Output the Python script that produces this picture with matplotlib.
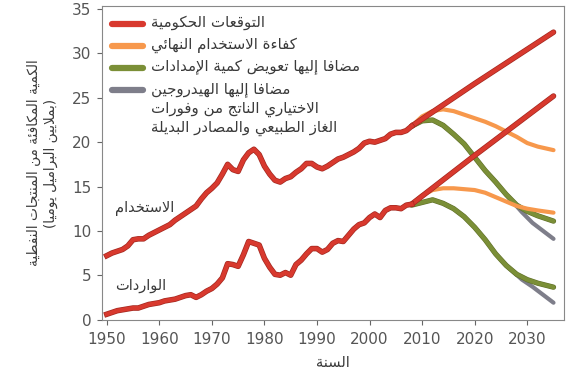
import matplotlib
matplotlib.use('Agg')
import matplotlib.pyplot as plt
import matplotlib.patheffects as pe
from matplotlib.transforms import offset_copy

# ---------------- Arabic shaping (presentation forms + visual order) ----------------
DUAL = {0x0626: 0xFE89, 0x0628: 0xFE8F, 0x062A: 0xFE95, 0x062B: 0xFE99, 0x062C: 0xFE9D,
        0x062D: 0xFEA1, 0x062E: 0xFEA5, 0x0633: 0xFEB1, 0x0634: 0xFEB5, 0x0635: 0xFEB9,
        0x0636: 0xFEBD, 0x0637: 0xFEC1, 0x0638: 0xFEC5, 0x0639: 0xFEC9, 0x063A: 0xFECD,
        0x0641: 0xFED1, 0x0642: 0xFED5, 0x0643: 0xFED9, 0x0644: 0xFEDD, 0x0645: 0xFEE1,
        0x0646: 0xFEE5, 0x0647: 0xFEE9, 0x064A: 0xFEF1}
RIGHT = {0x0622: 0xFE81, 0x0623: 0xFE83, 0x0624: 0xFE85, 0x0625: 0xFE87, 0x0627: 0xFE8D,
         0x0629: 0xFE93, 0x062F: 0xFEA9, 0x0630: 0xFEAB, 0x0631: 0xFEAD, 0x0632: 0xFEAF,
         0x0648: 0xFEED, 0x0649: 0xFEEF}
NONJ = {0x0621: 0xFE80}
LAMALEF = {0x0622: 0xFEF5, 0x0623: 0xFEF7, 0x0625: 0xFEF9, 0x0627: 0xFEFB}
MIRROR = {'(': ')', ')': '('}


def _joining(c):
    return c is not None and (ord(c) in DUAL or ord(c) in RIGHT)


def shape_line(s):
    chars = list(s)
    n = len(chars)
    res = []
    i = 0
    while i < n:
        c = chars[i]
        o = ord(c)
        prev = chars[i - 1] if i > 0 else None
        nxt = chars[i + 1] if i + 1 < n else None
        jp = prev is not None and ord(prev) in DUAL and _joining(c)
        if o == 0x0644 and nxt is not None and ord(nxt) in LAMALEF:
            base = LAMALEF[ord(nxt)]
            res.append(chr(base + 1 if jp else base))
            i += 2
            continue
        if o in DUAL:
            jn = _joining(nxt)
            base = DUAL[o]
            if jp and jn:
                res.append(chr(base + 3))
            elif jp:
                res.append(chr(base + 1))
            elif jn:
                res.append(chr(base + 2))
            else:
                res.append(chr(base))
        elif o in RIGHT:
            base = RIGHT[o]
            res.append(chr(base + 1 if jp else base))
        elif o in NONJ:
            res.append(chr(NONJ[o]))
        else:
            res.append(MIRROR.get(c, c))
        i += 1
    return ''.join(reversed(res))


def ar(s):
    return '\n'.join(shape_line(line) for line in s.split('\n'))


# ---------------- Data ----------------
hist_years = list(range(1950, 2009))
usage = [7.2, 7.5, 7.7, 7.9, 8.3, 9.0, 9.1, 9.1, 9.5, 9.8,
         10.1, 10.4, 10.7, 11.2, 11.6, 12.0, 12.4, 12.8, 13.6, 14.3,
         14.8, 15.4, 16.4, 17.5, 16.9, 16.7, 18.0, 18.8, 19.2, 18.6,
         17.3, 16.4, 15.7, 15.5, 15.9, 16.1, 16.6, 17.0, 17.6, 17.6,
         17.2, 17.0, 17.3, 17.7, 18.1, 18.3, 18.6, 18.9, 19.3, 19.9,
         20.1, 20.0, 20.2, 20.4, 20.9, 21.1, 21.1, 21.3, 21.8]
imports = [0.6, 0.8, 1.0, 1.1, 1.2, 1.3, 1.3, 1.5, 1.7, 1.8,
           1.9, 2.1, 2.2, 2.3, 2.5, 2.7, 2.8, 2.5, 2.8, 3.2,
           3.5, 4.0, 4.7, 6.3, 6.2, 6.0, 7.3, 8.8, 8.6, 8.4,
           6.9, 5.9, 5.1, 5.0, 5.3, 5.0, 6.2, 6.7, 7.4, 8.0,
           8.0, 7.6, 7.9, 8.6, 8.9, 8.8, 9.5, 10.2, 10.7, 10.9,
           11.5, 11.9, 11.5, 12.3, 12.6, 12.6, 12.5, 12.9, 13.0]

# Government projection
gov_years = [2008, 2020, 2035]
gov_usage = [21.8, 26.6, 32.4]
gov_imports = [13.0, 18.5, 25.2]

# End-use efficiency
eff_years = [2008, 2010, 2012, 2014, 2016, 2018, 2020, 2022, 2024, 2026, 2028, 2030, 2032, 2035]
eff_usage = [21.8, 22.9, 23.5, 23.7, 23.5, 23.1, 22.7, 22.3, 21.8, 21.2, 20.6, 19.9, 19.5, 19.1]
eff_imports = [13.0, 14.0, 14.6, 14.8, 14.8, 14.7, 14.6, 14.3, 13.8, 13.3, 12.8, 12.5, 12.3, 12.05]

# Plus supply substitution
sub_years = [2008, 2010, 2012, 2014, 2016, 2018, 2020, 2022, 2024, 2026, 2028, 2030, 2032, 2035]
sub_usage = [21.8, 22.4, 22.5, 21.9, 20.9, 19.8, 18.3, 16.8, 15.5, 14.1, 12.9, 12.2, 11.7, 11.1]
sub_imports = [12.9, 13.2, 13.5, 13.1, 12.5, 11.6, 10.4, 9.0, 7.4, 6.1, 5.1, 4.5, 4.1, 3.65]

# Plus optional hydrogen
hyd_years = [2026, 2029, 2031, 2033, 2035]
hyd_usage = [14.1, 12.1, 10.9, 10.0, 9.1]
hyd_imports = [6.1, 4.5, 3.7, 2.8, 1.9]

x_ticks = [1950, 1960, 1970, 1980, 1990, 2000, 2010, 2020, 2030]
y_ticks = [0, 5, 10, 15, 20, 25, 30, 35]

legend_labels = [
    'التوقعات الحكومية',
    'كفاءة الاستخدام النهائي',
    'مضافا إليها تعويض كمية الإمدادات',
    'مضافا إليها الهيدروجين\nالاختياري الناتج من وفورات\nالغاز الطبيعي والمصادر البديلة',
]
ylabel_text = 'الكمية المكافئة من المنتجات النفطية\n(بملايين البراميل يوميا)'
xlabel_text = 'السنة'
label_usage = 'الاستخدام'
label_imports = 'الواردات'

# ---------------- Styles ----------------
RED = '#d8392e'
RED_EDGE = '#a32820'
ORANGE = '#f7984c'
GREEN = '#7b8f37'
GREEN_EDGE = '#5e6e28'
GRAY = '#7e7e8a'
TXT = '#3a3a3a'

plt.rcParams['font.family'] = ['DejaVu Sans']

fig = plt.figure(figsize=(5.78, 3.73), dpi=100)
ax = fig.add_axes([0.1765, 0.1421, 0.7993, 0.8418])

lw = 3.0
red_pe = [pe.Stroke(linewidth=lw + 1.0, foreground=RED_EDGE), pe.Normal()]
green_pe = [pe.Stroke(linewidth=lw + 0.8, foreground=GREEN_EDGE), pe.Normal()]

ax.plot(hyd_years, hyd_usage, color=GRAY, lw=lw, zorder=2, solid_capstyle='round')
ax.plot(hyd_years, hyd_imports, color=GRAY, lw=lw, zorder=2, solid_capstyle='round')
ax.plot(sub_years, sub_usage, color=GREEN, lw=lw, zorder=3, path_effects=green_pe, solid_capstyle='round')
ax.plot(sub_years, sub_imports, color=GREEN, lw=lw, zorder=3, path_effects=green_pe, solid_capstyle='round')
ax.plot(eff_years, eff_usage, color=ORANGE, lw=lw, zorder=4, solid_capstyle='round')
ax.plot(eff_years, eff_imports, color=ORANGE, lw=lw, zorder=4, solid_capstyle='round')
ax.plot(gov_years, gov_usage, color=RED, lw=lw, zorder=5, path_effects=red_pe, solid_capstyle='round')
ax.plot(gov_years, gov_imports, color=RED, lw=lw, zorder=5, path_effects=red_pe, solid_capstyle='round')
ax.plot(hist_years, usage, color=RED, lw=lw, zorder=5, path_effects=red_pe, solid_joinstyle='round')
ax.plot(hist_years, imports, color=RED, lw=lw, zorder=5, path_effects=red_pe, solid_joinstyle='round')

# ---------------- Manual legend (handle aligned with first text line) ----------------
leg_colors = [RED, ORANGE, GREEN, GRAY]
leg_y = [0.943, 0.873, 0.803, 0.733]   # axes-fraction rows
LINE_STEP = 19.5  # pixels between wrapped legend lines
for col, yy, lab in zip(leg_colors, leg_y, legend_labels):
    ax.plot([0.022, 0.088], [yy, yy], transform=ax.transAxes, color=col, lw=4.5,
            solid_capstyle='round', zorder=6, clip_on=False)
    for k, line in enumerate(lab.split('\n')):
        tr = offset_copy(ax.transAxes, fig=fig, x=0, y=-3 - k * LINE_STEP, units='dots')
        ax.text(0.106, yy, ar(line), transform=tr, fontsize=10.8, color=TXT,
                ha='left', va='baseline', zorder=6)

ax.text(1951.5, 12.5, ar(label_usage), fontsize=10.5, color=TXT, ha='left', va='center')
ax.text(1951.5, 3.8, ar(label_imports), fontsize=10.5, color=TXT, ha='left', va='center')

ax.set_xlim(1949.1, 2037.0)
ax.set_ylim(-0.05, 35.35)
ax.set_xticks(x_ticks)
ax.set_yticks(y_ticks)
ax.tick_params(axis='both', direction='out', length=3.6, width=0.8, colors='#666666',
               labelcolor='#555555', labelsize=11)
ax.tick_params(axis='x', pad=5)
ax.tick_params(axis='y', pad=4)
for s in ax.spines.values():
    s.set_color('#888888')
    s.set_linewidth(0.8)

ax.set_xlabel(ar(xlabel_text), fontsize=10.5, color=TXT, labelpad=6)
ax.set_ylabel(ar(ylabel_text), fontsize=9.8, color=TXT, labelpad=10, linespacing=1.25)

fig.savefig('out.png', dpi=100)
